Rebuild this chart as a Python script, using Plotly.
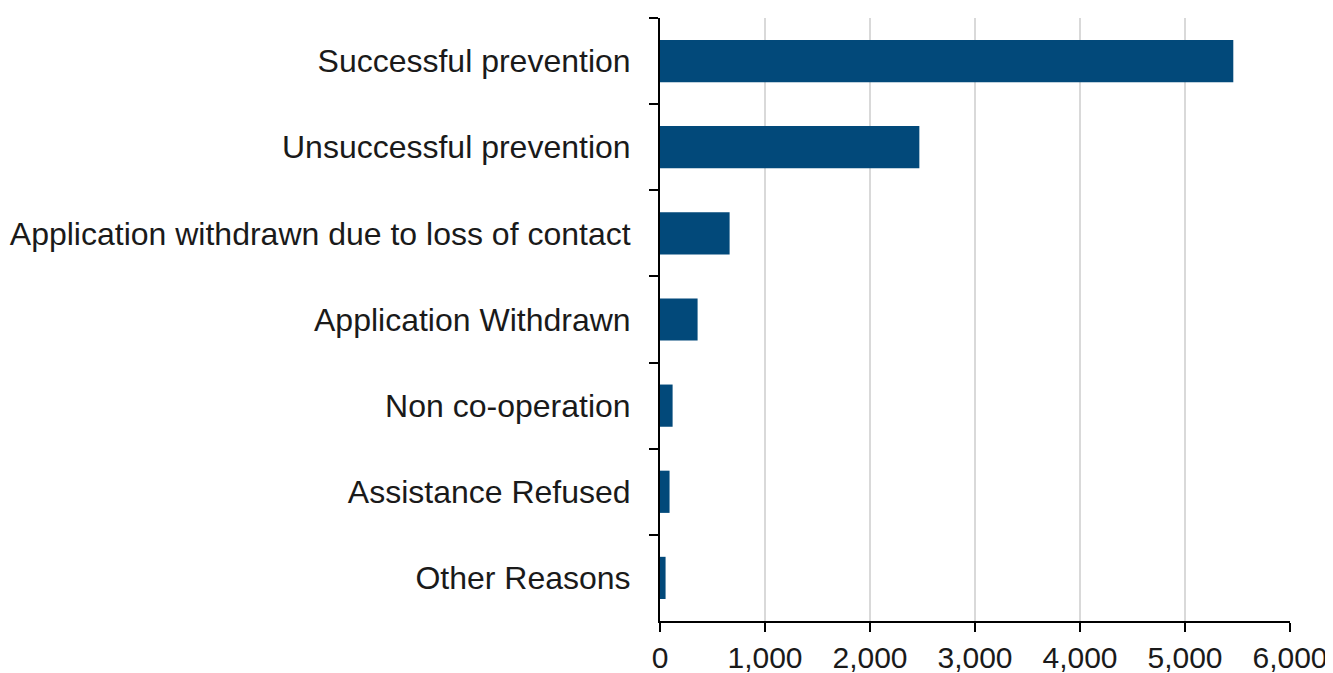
import plotly.graph_objects as go

categories = [
    "Successful prevention",
    "Unsuccessful prevention",
    "Application withdrawn due to loss of contact",
    "Application Withdrawn",
    "Non co-operation",
    "Assistance Refused",
    "Other Reasons",
]
values = [5460, 2470, 663, 358, 120, 91, 53]
x_ticks = [0, 1000, 2000, 3000, 4000, 5000, 6000]
x_tick_labels = ["0", "1,000", "2,000", "3,000", "4,000", "5,000", "6,000"]

fig = go.Figure(
    go.Bar(
        x=values,
        y=categories,
        orientation="h",
        marker=dict(color="#02497A", line=dict(width=0)),
        hoverinfo="x+y",
    )
)

# page body has an 8px default margin, so the figure is 8px smaller
fig.update_layout(
    width=1325,
    height=665,
    margin=dict(l=652, r=43, t=10, b=52, autoexpand=False),
    paper_bgcolor="white",
    plot_bgcolor="white",
    bargap=0.51,
    showlegend=False,
    font=dict(family="Liberation Sans, Arial, sans-serif", size=32, color="#1a1a1a"),
)

fig.update_xaxes(
    range=[0, 6000],
    tickvals=x_ticks,
    ticktext=x_tick_labels,
    tickfont=dict(size=30),
    showgrid=True,
    gridcolor="#d9d9d9",
    gridwidth=2,
    zeroline=False,
    showline=True,
    linecolor="black",
    linewidth=2,
    ticks="outside",
    ticklen=9,
    tickwidth=2,
    tickcolor="black",
    ticklabelstandoff=0,
    automargin=False,
    fixedrange=True,
)

fig.update_yaxes(
    categoryorder="array",
    categoryarray=categories,
    autorange="reversed",
    showgrid=False,
    zeroline=False,
    showline=True,
    linecolor="black",
    linewidth=2,
    ticks="outside",
    tickmode="array",
    tickson="boundaries",
    ticklen=9,
    tickwidth=2,
    tickcolor="black",
    ticklabelstandoff=21,
    automargin=False,
    fixedrange=True,
)

fig.write_html("out.html")
